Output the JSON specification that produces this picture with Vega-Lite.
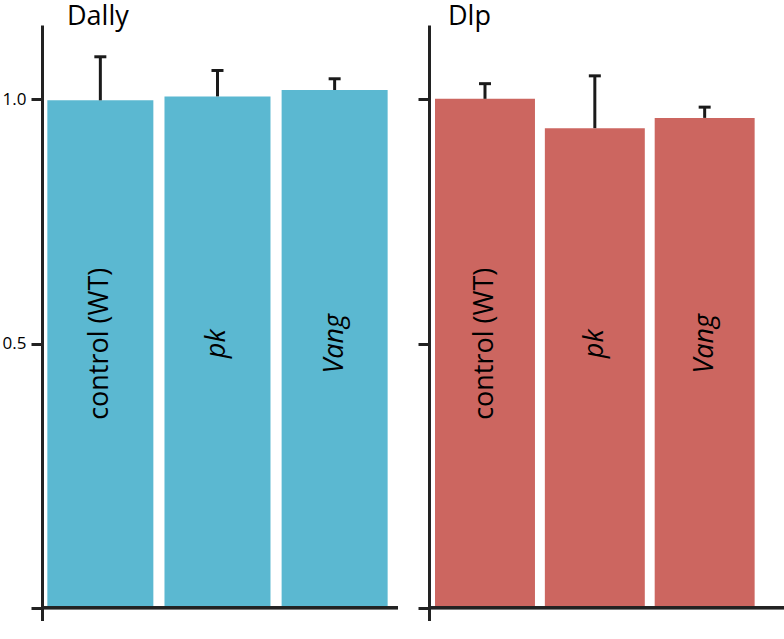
{
  "$schema": "https://vega.github.io/schema/vega-lite/v6.json",
  "padding": {"left": 0, "top": 3, "right": 0, "bottom": 0},
  "background": "white",
  "config": {
    "view": {"stroke": null},
    "font": "Open Sans",
    "title": {"font": "Open Sans", "fontSize": 27, "fontWeight": "normal", "color": "#000000", "anchor": "start", "frame": "group", "baseline": "bottom", "offset": -6}
  },
  "datasets": {
    "bars": [
      {"protein": "Dally", "genotype": "control (WT)", "value": 0.998, "upper": 1.087},
      {"protein": "Dally", "genotype": "pk", "value": 1.006, "upper": 1.059},
      {"protein": "Dally", "genotype": "Vang", "value": 1.019, "upper": 1.042},
      {"protein": "Dlp", "genotype": "control (WT)", "value": 1.001, "upper": 1.032},
      {"protein": "Dlp", "genotype": "pk", "value": 0.941, "upper": 1.048},
      {"protein": "Dlp", "genotype": "Vang", "value": 0.962, "upper": 0.984}
    ]
  },
  "data": {"name": "bars"},
  "spacing": 16,
  "hconcat": [
    {
      "width": 356,
      "height": 596,
      "title": {"text": "Dally", "dx": 25},
      "transform": [{"filter": "datum.protein === 'Dally'"}],
      "layer": [
        {
          "mark": {"type": "bar", "color": "#5BB8D1"},
          "encoding": {
            "x": {"field": "genotype", "type": "nominal", "sort": null, "axis": null,
                  "scale": {"paddingInner": 0.095, "paddingOuter": 0.067, "align": 0.34}},
            "y": {"field": "value", "type": "quantitative",
                  "scale": {"domain": [-0.067, 1.152], "nice": false, "zero": false},
                  "axis": {"values": [-0.04, 0.5, 1.0], "labelExpr": "datum.value < 0 ? '' : format(datum.value, '.1f')",
                           "grid": false, "title": null, "domainColor": "#222222", "domainWidth": 3,
                           "tickColor": "#222222", "tickWidth": 3, "tickSize": 11, "labelFontSize": 17,
                           "labelColor": "#000000", "labelFont": "Open Sans", "labelPadding": 5,
                           "minExtent": 42, "maxExtent": 42}},
            "y2": {"datum": -0.04}
          }
        },
        {
          "mark": {"type": "rule", "color": "#1a1a1a", "strokeWidth": 3},
          "encoding": {
            "x": {"field": "genotype", "type": "nominal", "sort": null},
            "y": {"field": "value", "type": "quantitative"},
            "y2": {"field": "upper"}
          }
        },
        {
          "mark": {"type": "tick", "color": "#1a1a1a", "thickness": 3, "size": 12, "opacity": 1},
          "encoding": {
            "x": {"field": "genotype", "type": "nominal", "sort": null},
            "y": {"field": "upper", "type": "quantitative"}
          }
        },
        {
          "transform": [{"filter": "datum.genotype === 'control (WT)'"}],
          "mark": {"type": "text", "angle": 270, "fontSize": 27, "font": "Open Sans", "color": "#000000", "align": "center", "baseline": "middle"},
          "encoding": {
            "x": {"field": "genotype", "type": "nominal", "sort": null},
            "y": {"datum": 0.5, "type": "quantitative"},
            "text": {"field": "genotype"}
          }
        },
        {
          "transform": [{"filter": "datum.genotype !== 'control (WT)'"}],
          "mark": {"type": "text", "angle": 270, "fontSize": 27, "font": "Open Sans", "fontStyle": "italic", "color": "#000000", "align": "center", "baseline": "middle"},
          "encoding": {
            "x": {"field": "genotype", "type": "nominal", "sort": null},
            "y": {"datum": 0.5, "type": "quantitative"},
            "text": {"field": "genotype"}
          }
        },
        {
          "mark": {"type": "rule", "color": "#222222", "strokeWidth": 3},
          "encoding": {"y": {"datum": -0.04, "type": "quantitative"}}
        }
      ]
    },
    {
      "width": 355,
      "height": 596,
      "title": {"text": "Dlp", "dx": 19},
      "transform": [{"filter": "datum.protein === 'Dlp'"}],
      "layer": [
        {
          "mark": {"type": "bar", "color": "#CC6660"},
          "encoding": {
            "x": {"field": "genotype", "type": "nominal", "sort": null, "axis": null,
                  "scale": {"paddingInner": 0.09, "paddingOuter": 0.161, "align": 0.17}},
            "y": {"field": "value", "type": "quantitative",
                  "scale": {"domain": [-0.067, 1.152], "nice": false, "zero": false},
                  "axis": {"values": [-0.04, 0.5, 1.0], "labels": false,
                           "grid": false, "title": null, "domainColor": "#222222", "domainWidth": 3,
                           "tickColor": "#222222", "tickWidth": 3, "tickSize": 11,
                           "minExtent": 12, "maxExtent": 12}},
            "y2": {"datum": -0.04}
          }
        },
        {
          "mark": {"type": "rule", "color": "#1a1a1a", "strokeWidth": 3},
          "encoding": {
            "x": {"field": "genotype", "type": "nominal", "sort": null},
            "y": {"field": "value", "type": "quantitative"},
            "y2": {"field": "upper"}
          }
        },
        {
          "mark": {"type": "tick", "color": "#1a1a1a", "thickness": 3, "size": 12, "opacity": 1},
          "encoding": {
            "x": {"field": "genotype", "type": "nominal", "sort": null},
            "y": {"field": "upper", "type": "quantitative"}
          }
        },
        {
          "transform": [{"filter": "datum.genotype === 'control (WT)'"}],
          "mark": {"type": "text", "angle": 270, "fontSize": 27, "font": "Open Sans", "color": "#000000", "align": "center", "baseline": "middle"},
          "encoding": {
            "x": {"field": "genotype", "type": "nominal", "sort": null},
            "y": {"datum": 0.5, "type": "quantitative"},
            "text": {"field": "genotype"}
          }
        },
        {
          "transform": [{"filter": "datum.genotype !== 'control (WT)'"}],
          "mark": {"type": "text", "angle": 270, "fontSize": 27, "font": "Open Sans", "fontStyle": "italic", "color": "#000000", "align": "center", "baseline": "middle"},
          "encoding": {
            "x": {"field": "genotype", "type": "nominal", "sort": null},
            "y": {"datum": 0.5, "type": "quantitative"},
            "text": {"field": "genotype"}
          }
        },
        {
          "mark": {"type": "rule", "color": "#222222", "strokeWidth": 3},
          "encoding": {"y": {"datum": -0.04, "type": "quantitative"}}
        }
      ]
    }
  ]
}
